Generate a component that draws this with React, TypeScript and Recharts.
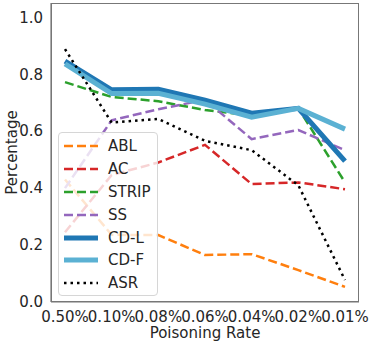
import React from "react";
import { LineChart, Line, XAxis, YAxis } from "recharts";

const rates = ["0.50%", "0.10%", "0.08%", "0.06%", "0.04%", "0.02%", "0.01%"];
const abl = [0.43, 0.236, 0.235, 0.165, 0.168, 0.112, 0.053];
const ac = [0.245, 0.446, 0.49, 0.552, 0.414, 0.42, 0.396];
const strip = [0.772, 0.72, 0.705, 0.674, 0.655, 0.68, 0.42];
const ss = [0.4, 0.638, 0.677, 0.71, 0.572, 0.604, 0.533];
const cdL = [0.846, 0.745, 0.747, 0.709, 0.663, 0.68, 0.495];
const cdF = [0.836, 0.732, 0.733, 0.695, 0.649, 0.68, 0.607];
const asr = [0.888, 0.63, 0.643, 0.566, 0.533, 0.41, 0.077];
const yTicks = [0, 0.2, 0.4, 0.6, 0.8, 1.0];

const data = rates.map((rate, i) => ({
  rate,
  ABL: abl[i],
  AC: ac[i],
  STRIP: strip[i],
  SS: ss[i],
  "CD-L": cdL[i],
  "CD-F": cdF[i],
  ASR: asr[i]
}));

const series = [
  { key: "ABL", color: "#ff7f0e", width: 2.5, dash: "9 4" },
  { key: "AC", color: "#d62728", width: 2.5, dash: "9 4" },
  { key: "STRIP", color: "#2ca02c", width: 2.5, dash: "9 4" },
  { key: "SS", color: "#9467bd", width: 2.5, dash: "9 4" },
  { key: "CD-L", color: "#1f77b4", width: 5, dash: undefined },
  { key: "CD-F", color: "#5bb1d3", width: 5, dash: undefined },
  { key: "ASR", color: "#000000", width: 2.5, dash: "2.5 4" }
];

const font = "DejaVu Sans";
const textColor = "#262626";
const spine = "#777";
const margin = { top: 3, right: 14, bottom: 0, left: 0 };
const yAxisWidth = 51;
const xAxisHeight = 43;
const chartW = 373;
const chartH = 345;

// matplotlib-style legend box, semi transparent over the lines
function LegendBox() {
  return (
    <div
      style={{
        position: "absolute",
        left: 58,
        top: 132,
        width: 100,
        height: 164,
        background: "rgba(255,255,255,0.8)",
        border: "1px solid #d6d6d6",
        borderRadius: 4,
        boxSizing: "border-box",
        paddingTop: 2,
        fontFamily: font,
        fontSize: 15,
        color: textColor
      }}
    >
      {series.map((s) => (
        <div key={s.key} style={{ display: "flex", alignItems: "center", height: 22.8 }}>
          <svg width={40} height={10} style={{ marginLeft: 4 }}>
            <line
              x1={1}
              x2={35}
              y1={5}
              y2={5}
              stroke={s.color}
              strokeWidth={s.width}
              strokeDasharray={s.dash}
            />
          </svg>
          <span style={{ marginLeft: 5 }}>{s.key}</span>
        </div>
      ))}
    </div>
  );
}

export default function App() {
  // frame around the plot area (the four spines)
  const frame = {
    left: margin.left + yAxisWidth,
    top: margin.top,
    width: chartW - margin.left - margin.right - yAxisWidth,
    height: chartH - margin.top - margin.bottom - xAxisHeight
  };
  return (
    <div style={{ position: "absolute", left: 0, top: 0, width: chartW, height: chartH, background: "#fff" }}>
      <LineChart width={chartW} height={chartH} data={data} margin={margin} style={{ fontFamily: font }}>
        <XAxis
          dataKey="rate"
          scale="point"
          interval={0}
          padding={{ left: 14, right: 14 }}
          height={xAxisHeight}
          tickLine={false}
          tickMargin={3}
          axisLine={{ stroke: spine, strokeWidth: 1.2 }}
          tick={{ fill: textColor, fontSize: 15 }}
          label={{ value: "Poisoning Rate", position: "insideBottom", offset: 7, fill: textColor, fontSize: 15 }}
        />
        <YAxis
          domain={[0, 1.05]}
          ticks={yTicks}
          width={yAxisWidth}
          tickLine={false}
          tickFormatter={(v: number) => v.toFixed(1)}
          axisLine={{ stroke: spine, strokeWidth: 1.2 }}
          tick={{ fill: textColor, fontSize: 15 }}
          label={{ value: "Percentage", angle: -90, position: "insideLeft", offset: 12, fill: textColor, fontSize: 15, style: { textAnchor: "middle" } }}
        />
        {series.map((s) => (
          <Line
            key={s.key}
            dataKey={s.key}
            stroke={s.color}
            strokeWidth={s.width}
            strokeDasharray={s.dash}
            dot={false}
            activeDot={false}
            isAnimationActive={false}
          />
        ))}
      </LineChart>
      <div
        style={{
          position: "absolute",
          left: frame.left - 0.5,
          top: frame.top - 0.5,
          width: frame.width,
          height: frame.height,
          border: `1.2px solid ${spine}`,
          boxSizing: "border-box",
          pointerEvents: "none"
        }}
      />
      <LegendBox />
    </div>
  );
}
